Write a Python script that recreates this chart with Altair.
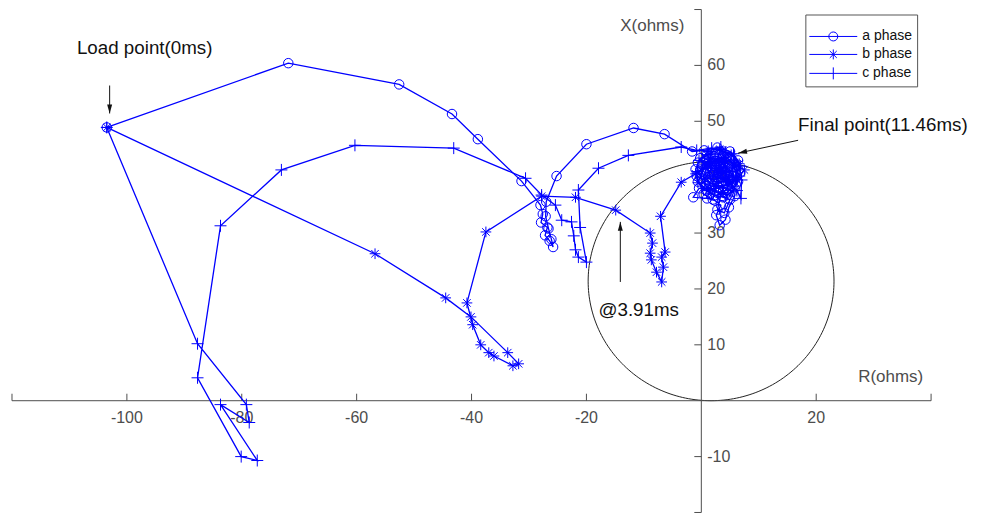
import altair as alt
import numpy as np
import pandas as pd

PHASES = ["a phase", "b phase", "c phase"]

# ---- trajectories (R, X in ohms) ----
a_R = [-103.5, -71.9, -52.6, -43.4, -38.9, -31.3, -28.0, -27.6, -27.9, -26.8, -27.2, -26.4,
       -25.8, -26.1, -26.6, -27.1, -27.0, -25.2, -20.0, -11.8, -6.4, -1.6,
       0.5, 2.8, 5.0, 6.4, 6.8, 6.0, 4.4, 2.5, 0.8, -0.6,
       -1.0, -0.2, 1.6, 3.8, 5.4, 5.6, 4.6, 3.0, 1.4, 0.6,
       1.2, 3.0, 4.6, 4.2, 2.6, 2.0, 3.4, 5.2, 5.8, 4.8,
       4.2, 3.2, 2.6, 3.4, 2.4, 1.0, -1.4, -0.4, 1.8, 3.6,
       5.0, 4.0, 2.8, 3.8, 2.2, 3.2, 3.6,
       4.8, 2.2, 0.2, 0.0, 1.6, 3.8, 5.4, 6.4, 6.0, 4.4,
       2.0, 1.0, 1.8, 3.4, 4.8, 5.0, 3.6, 1.4, 0.2, 0.8,
       2.8, 4.6, 5.8, 6.2, 5.2, 3.2, 1.0, -0.6, -0.8, 0.4,
       2.0, 3.0, 4.0, 2.4, 3.8, 4.6, 2.2, 1.2, 3.0, 3.5]
a_X = [48.9, 60.4, 56.6, 51.3, 46.8, 39.3, 35.0, 33.4, 31.9, 31.0, 29.6, 28.6,
       27.5, 28.9, 30.8, 33.0, 35.6, 40.2, 45.9, 48.8, 47.7, 44.6,
       44.8, 45.3, 44.6, 43.0, 40.8, 38.6, 37.2, 36.8, 37.6, 39.2,
       41.4, 43.4, 44.2, 44.0, 42.4, 40.2, 38.6, 38.2, 39.0, 40.8,
       42.6, 43.0, 41.6, 39.8, 39.6, 41.2, 41.6, 39.2, 36.6, 34.6,
       32.4, 31.4, 33.2, 35.0, 35.8, 36.2, 36.4, 38.0, 38.0, 36.6,
       36.0, 33.6, 34.2, 38.4, 40.4, 42.2, 41.4,
       43.2, 43.8, 42.2, 39.8, 37.0, 36.4, 37.4, 39.2, 41.8, 43.6,
       42.8, 41.6, 39.4, 39.0, 40.0, 42.0, 43.4, 43.2, 41.0, 38.4,
       37.2, 36.8, 38.0, 40.4, 43.0, 44.2, 44.0, 42.6, 40.2, 37.0,
       36.0, 39.8, 41.0, 42.0, 42.4, 38.0, 38.8, 40.0, 40.6, 41.5]

b_R = [-103.5, -56.8, -44.5, -40.1, -33.7, -31.8, -32.8, -36.1, -37.0, -38.4, -39.8, -40.8,
       -37.5, -27.8, -21.9, -14.9, -8.9, -8.5, -8.9, -8.7, -7.8, -6.9, -6.6, -6.9, -6.3,
       -7.1, -3.5, -1.0, 1.4, 3.8, 5.8, 7.5, 6.2, 4.6, 2.4, 0.6, 1.8, 4.2, 5.4, 3.6, 2.8,
       1.0, 3.2, 5.2, 6.6, 6.0, 3.8, 1.2, -0.6, 0.6, 3.0, 4.8, 2.2, 3.4]
b_X = [48.9, 26.3, 18.4, 15.0, 8.6, 6.6, 6.25, 8.0, 8.6, 10.0, 13.6, 17.5,
       30.2, 36.6, 36.4, 34.1, 30.0, 28.2, 26.4, 25.2, 23.0, 21.25, 23.9, 25.7, 26.6,
       33.0, 39.1, 40.6, 42.6, 43.4, 42.2, 41.3, 39.6, 38.6, 38.4, 39.8, 41.6, 41.8, 40.4, 39.8, 40.8,
       44.0, 45.0, 44.0, 42.4, 40.0, 37.2, 37.6, 39.0, 42.2, 42.6, 39.6, 40.2, 41.2]

c_R = [-103.5, -87.7, -79.2, -78.7, -83.7, -77.3, -80.1, -87.7, -83.7, -73.1, -60.3, -43.1,
       -30.6, -27.8, -25.4, -24.3, -22.6, -22.2, -21.9, -21.4, -20.0, -21.1, -21.4, -17.9,
       -12.7, -3.5, -0.8, 1.8, 4.2, 5.8, 6.6, 7.0, 6.9, 6.2, 4.8, 2.6, 0.8, 1.6, 3.8, 5.2, 3.4,
       -0.4, 1.2, 3.4, 5.6, 6.8, 5.4, 3.0, 0.6, -0.6, 1.6, 4.0, 4.4, 2.6, 3.6]
c_X = [48.9, 10.2, -0.7, -3.9, -0.7, -10.7, -10.0, 4.1, 31.3, 41.3, 45.7, 45.2,
       39.8, 36.8, 35.0, 32.3, 32.0, 29.5, 27.0, 25.7, 24.8, 31.0, 37.7, 41.6,
       43.9, 45.4, 44.8, 45.2, 44.4, 42.6, 40.2, 39.5, 36.2, 37.6, 39.2, 40.0, 41.6, 43.4, 42.8, 41.0, 40.8,
       43.0, 44.6, 45.4, 44.2, 42.0, 39.0, 38.0, 38.8, 41.0, 42.0, 43.0, 40.4, 41.6, 41.0]

# ---- axes ----
x_ticks = [-120, -100, -80, -60, -40, -20, 20, 40]
x_labels = [-100, -80, -60, -40, -20, 20]
y_ticks = [70, 60, 50, 40, 30, 20, 10, -10, -20]
y_labels = [60, 50, 40, 30, 20, 10, -10]

# ---- mho circle ----
circle_center = (1.7, 21.4)
circle_radius = 21.4

# ---- annotations ----
ann_text = ["Load point(0ms)", "Final point(11.46ms)", "@3.91ms"]
ann_x = [-96.9, 16.85, -10.9]
ann_y = [63.2, 49.3, 16.25]
ann_align = ["center", "left", "center"]
arr_x0 = [-103.0, 16.85, -14.1]
arr_y0 = [56.4, 46.6, 21.25]
arr_x1 = [-103.0, 6.4, -14.1]
arr_y1 = [51.4, 44.3, 32.0]
arr_angle = [0, 78, 180]

BLUE = "#0000ff"
GREY = "#4d4d4d"
FONT = "Liberation Sans"

rows = []
for name, R, X in zip(PHASES, [a_R, b_R, c_R], [a_X, b_X, c_X]):
    assert len(R) == len(X)
    for i, (r, x) in enumerate(zip(R, X)):
        rows.append({"phase": name, "i": i, "R": r, "X": x})
df = pd.DataFrame(rows)

th = np.linspace(0, 2 * np.pi, 241)
circ = pd.DataFrame({"k": np.arange(len(th)),
                     "R": circle_center[0] + circle_radius * np.cos(th),
                     "X": circle_center[1] + circle_radius * np.sin(th)})

xs = alt.Scale(domain=[-120, 40], nice=False, zero=False)
ys = alt.Scale(domain=[-20, 70], nice=False, zero=False)
X_ = lambda f: alt.X(f, type="quantitative", scale=xs, axis=None)
Y_ = lambda f: alt.Y(f, type="quantitative", scale=ys, axis=None)

mho = alt.Chart(circ).mark_line(color="#222222", strokeWidth=1).encode(
    x=X_("R"), y=Y_("X"), order="k:Q")

xaxis = alt.Chart(pd.DataFrame({"a": [x_ticks[0]], "b": [x_ticks[-1]]})).mark_rule(
    color=GREY, strokeWidth=1).encode(x=X_("a"), x2="b:Q", y=alt.Y(datum=0, scale=ys, axis=None))
yaxis = alt.Chart(pd.DataFrame({"a": [y_ticks[-1]], "b": [y_ticks[0]]})).mark_rule(
    color=GREY, strokeWidth=1).encode(y=Y_("a"), y2="b:Q", x=alt.X(datum=0, scale=xs, axis=None))

xt = alt.Chart(pd.DataFrame({"t": x_ticks})).mark_rule(color=GREY, y2Offset=-7).encode(
    x=X_("t"), y=alt.Y(datum=0, scale=ys, axis=None), y2=alt.Y2(datum=0))
yt = alt.Chart(pd.DataFrame({"t": y_ticks})).mark_rule(color=GREY, x2Offset=-7).encode(
    y=Y_("t"), x=alt.X(datum=0, scale=xs, axis=None), x2=alt.X2(datum=0))

xl = alt.Chart(pd.DataFrame({"t": x_labels, "s": [str(v) for v in x_labels]})).mark_text(
    color=GREY, font=FONT, fontSize=16, dy=17, align="center", baseline="middle").encode(
    x=X_("t"), y=alt.Y(datum=0, scale=ys, axis=None), text="s:N")
yl = alt.Chart(pd.DataFrame({"t": y_labels, "s": [str(v) for v in y_labels]})).mark_text(
    color=GREY, font=FONT, fontSize=16, dx=6, align="left", baseline="middle").encode(
    y=Y_("t"), x=alt.X(datum=0, scale=xs, axis=None), text="s:N")

xtitle = alt.Chart(pd.DataFrame({"R": [-2.95], "X": [67.1], "t": ["X(ohms)"]})).mark_text(
    color=GREY, font=FONT, fontSize=17, align="right", baseline="middle").encode(
    x=X_("R"), y=Y_("X"), text="t:N")
rtitle = alt.Chart(pd.DataFrame({"R": [27.3], "X": [4.3], "t": ["R(ohms)"]})).mark_text(
    color=GREY, font=FONT, fontSize=17, align="left", baseline="middle").encode(
    x=X_("R"), y=Y_("X"), text="t:N")

lines = alt.Chart(df).mark_line(color=BLUE, strokeWidth=1.3).encode(
    x=X_("R"), y=Y_("X"), detail="phase:N", order="i:Q")

ASTER = "M-1,0L1,0M0,-1L0,1M-0.7,-0.7L0.7,0.7M-0.7,0.7L0.7,-0.7"
PLUS = "M-1,0L1,0M0,-1L0,1"
mk_a = alt.Chart(df).transform_filter(alt.datum.phase == "a phase").mark_point(
    shape="circle", size=90, filled=False, color=BLUE, strokeWidth=1, opacity=1).encode(x=X_("R"), y=Y_("X"))
mk_b = alt.Chart(df).transform_filter(alt.datum.phase == "b phase").mark_point(
    shape=ASTER, size=115, filled=False, color=BLUE, strokeWidth=1, opacity=1).encode(x=X_("R"), y=Y_("X"))
mk_c = alt.Chart(df).transform_filter(alt.datum.phase == "c phase").mark_point(
    shape=PLUS, size=144, filled=False, color=BLUE, strokeWidth=1, opacity=1).encode(x=X_("R"), y=Y_("X"))

LEG_A = "M-4.8,0L4.8,0M-0.9,0A0.9 0.9 0 1 1 0.9,0A0.9 0.9 0 1 1 -0.9,0"
LEG_B = "M-4.8,0L4.8,0M0,-1L0,1M-0.7,-0.7L0.7,0.7M-0.7,0.7L0.7,-0.7"
LEG_C = "M-4.8,0L4.8,0M0,-1.2L0,1.2"
leg_df = pd.DataFrame({"phase": PHASES, "R": [a_R[0], b_R[0], c_R[0]], "X": [a_X[0], b_X[0], c_X[0]]})
legend_layer = alt.Chart(leg_df).mark_point(filled=False, color=BLUE, opacity=0).encode(
    x=X_("R"), y=Y_("X"),
    shape=alt.Shape("phase:N", scale=alt.Scale(domain=PHASES, range=[LEG_A, LEG_B, LEG_C]),
                    legend=alt.Legend(title=" ", titleFontSize=6, titlePadding=4,
                                      orient="none", legendX=795, legendY=5,
                                      symbolSize=100, symbolOffset=16, labelOffset=22,
                                      symbolStrokeWidth=1, symbolStrokeColor=BLUE,
                                      symbolFillColor="transparent", symbolOpacity=1,
                                      labelFont=FONT, labelFontSize=14, labelColor="#111111",
                                      rowPadding=4, padding=5, strokeColor="#555555",
                                      fillColor="white", labelLimit=200)))

arr_df = pd.DataFrame({"x0": arr_x0, "y0": arr_y0, "x1": arr_x1, "y1": arr_y1, "ang": arr_angle})
arr_lines = alt.Chart(arr_df).mark_rule(color="#111111", strokeWidth=1).encode(
    x=X_("x0"), y=Y_("y0"), x2="x1:Q", y2="y1:Q")
HEAD = "M0,0L-2.5,-9L2.5,-9Z"
arr_heads = alt.Chart(arr_df).mark_point(shape=HEAD, size=4, filled=True, color="#111111", opacity=1).encode(
    x=X_("x1"), y=Y_("y1"), angle=alt.Angle("ang:Q", scale=None))

ann_df = pd.DataFrame({"x": ann_x, "y": ann_y, "t": ann_text, "al": ann_align})
ann_layers = []
for al in ["left", "center"]:
    ann_layers.append(alt.Chart(ann_df).transform_filter(alt.datum.al == al).mark_text(
        font=FONT, fontSize=18.8, color="#111111", align=al, baseline="middle").encode(
        x=X_("x"), y=Y_("y"), text="t:N"))

chart = alt.layer(mho, xaxis, yaxis, xt, yt, xl, yl, xtitle, rtitle, lines, mk_a, mk_b, mk_c,
                  legend_layer, arr_lines, arr_heads, *ann_layers).properties(
    width=921, height=504,
    padding={"left": 4, "top": 1, "right": 42, "bottom": 1},
    autosize=alt.AutoSizeParams(type="none"),
    background="white",
).configure_view(stroke=None)

chart.save("out.html", embed_options={"renderer": "svg", "actions": False})
